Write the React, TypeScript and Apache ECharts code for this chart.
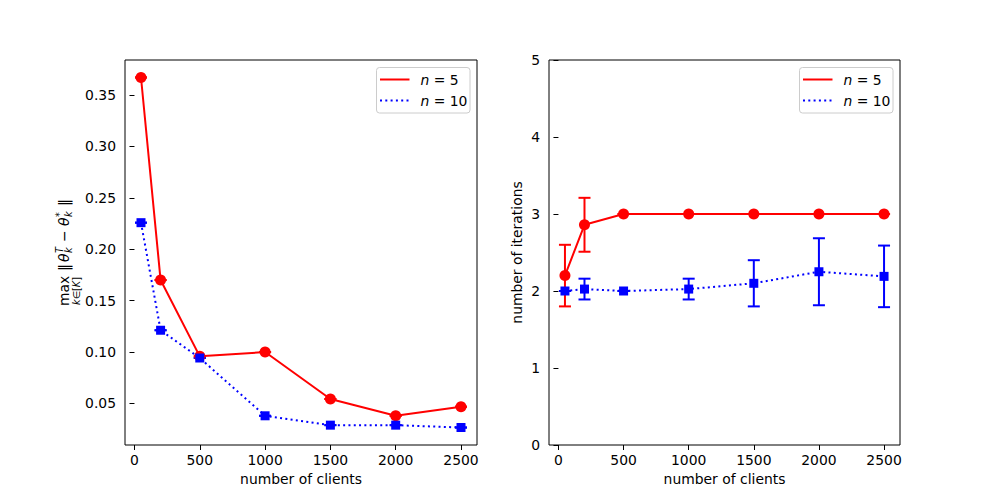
import React, { useEffect, useRef } from "react";
import * as echarts from "echarts";

const clients = [50, 200, 500, 1000, 1500, 2000, 2500];
const xTicks = [0, 500, 1000, 1500, 2000, 2500];
const leftYTicks = [0.05, 0.1, 0.15, 0.2, 0.25, 0.3, 0.35];

const distN5 = [0.367, 0.170, 0.0958, 0.100, 0.0543, 0.038, 0.0468];
const distN5Std = [0, 0, 0, 0, 0, 0, 0];
const distN10 = [0.2258, 0.1212, 0.0942, 0.038, 0.0289, 0.0289, 0.0266];
const distN10Std = [0, 0, 0, 0, 0, 0, 0];

const iterN5 = [2.2, 2.86, 3, 3, 3, 3, 3];
const iterN5Std = [0.4, 0.35, 0, 0, 0, 0, 0];
const iterN10 = [2.0, 2.025, 2.0, 2.025, 2.1, 2.25, 2.19];
const iterN10Std = [0, 0.135, 0, 0.135, 0.3, 0.435, 0.4];

const RED = "#ff0000";
const BLUE = "#0000ff";
const FONT = "DejaVu Sans";
const FS = 13.9;
const LW = 2;
const DOT = [2, 3.3];

function errSeries(vals: number[], std: number[], color: string, axis: number) {
  return {
    type: "custom",
    xAxisIndex: axis,
    yAxisIndex: axis,
    z: 1,
    data: clients.map((c, i) => [c, vals[i], std[i]]),
    encode: { x: 0, y: 1 },
    renderItem: (params: any, api: any) => {
      const x = api.value(0);
      const y = api.value(1);
      const e = api.value(2);
      const top = api.coord([x, y + e]);
      const bot = api.coord([x, y - e]);
      const hw = 6;
      const style = { stroke: color, lineWidth: LW };
      return {
        type: "group",
        children: [
          { type: "line", shape: { x1: top[0], y1: top[1], x2: bot[0], y2: bot[1] }, style },
          { type: "line", shape: { x1: top[0] - hw, y1: top[1], x2: top[0] + hw, y2: top[1] }, style },
          { type: "line", shape: { x1: bot[0] - hw, y1: bot[1], x2: bot[0] + hw, y2: bot[1] }, style },
        ],
      };
    },
  };
}

function lineSeries(vals: number[], color: string, axis: number, solid: boolean) {
  return {
    type: "line",
    xAxisIndex: axis,
    yAxisIndex: axis,
    z: 3,
    data: clients.map((c, i) => [c, vals[i]]),
    symbol: solid ? "circle" : "rect",
    symbolSize: solid ? 11 : 9,
    showSymbol: true,
    itemStyle: { color, borderWidth: 0 },
    lineStyle: { color, width: LW, type: solid ? "solid" : DOT },
  };
}

function xAxis(grid: number) {
  return {
    type: "value",
    gridIndex: grid,
    min: -72.5,
    max: 2622.5,
    splitLine: { show: false },
    axisLine: { show: false },
    axisTick: { show: true, length: 5, customValues: xTicks, lineStyle: { color: "#000" } },
    axisLabel: {
      customValues: xTicks,
      color: "#000",
      fontFamily: FONT,
      fontSize: FS,
      margin: 8,
      formatter: (v: number) => String(Math.round(v)),
    },
    name: "number of clients",
    nameLocation: "middle",
    nameGap: 27,
    nameTextStyle: { color: "#000", fontFamily: FONT, fontSize: FS },
  };
}

function legend(x: number, y: number) {
  const children: any[] = [
    {
      type: "rect",
      shape: { x, y, width: 93.5, height: 45.5, r: 3 },
      style: { fill: "rgba(255,255,255,0.8)", stroke: "#cccccc", lineWidth: 1 },
    },
    {
      type: "line",
      shape: { x1: x + 3.5, y1: y + 12, x2: x + 33, y2: y + 12 },
      style: { stroke: RED, lineWidth: LW },
    },
    {
      type: "line",
      shape: { x1: x + 3.5, y1: y + 33, x2: x + 33, y2: y + 33 },
      style: { stroke: BLUE, lineWidth: LW, lineDash: DOT },
    },
  ];
  const labels = ["5", "10"];
  labels.forEach((l, i) => {
    children.push({
      type: "text",
      x: x + 44,
      y: y + 12 + i * 21,
      style: {
        text: "{i|n} = " + l,
        fontFamily: FONT,
        fontSize: FS,
        fill: "#000",
        verticalAlign: "middle",
        align: "left",
        rich: { i: { fontStyle: "italic", fontFamily: FONT, fontSize: FS, fill: "#000" } },
      },
    });
  });
  return { type: "group", children };
}

function yLabel() {
  const base = { fontFamily: FONT, fill: "#000", verticalAlign: "middle" };
  const it = { ...base, fontStyle: "italic" };
  const t = (text: string, x: number, y: number, st: any, fs: number, align = "left") => ({
    type: "text",
    x,
    y,
    style: { ...st, text, fontSize: fs, align },
  });
  return {
    type: "group",
    x: 64,
    y: 306,
    rotation: Math.PI / 2,
    children: [
      t("max", 0, 0, base, FS),
      {
        type: "text",
        x: 15,
        y: 12,
        style: {
          ...base,
          text: "{i|k}∈[{i|K}]",
          fontSize: 9.7,
          align: "center",
          rich: { i: { fontStyle: "italic", fontFamily: FONT, fontSize: 9.7, fill: "#000" } },
        },
      },
      t("‖", 35, 0, base, FS),
      t("θ", 44, 0, it, FS),
      t("T", 53, -5, it, 9.7),
      t("k", 53, 4, it, 9.7),
      t("−", 64, 0, base, FS),
      t("θ", 80, 0, it, FS),
      t("*", 89, -5, base, 9.7),
      t("k", 89, 4, it, 9.7),
      t("‖", 100, 0, base, FS),
    ],
  };
}

export default function App() {
  const ref = useRef<HTMLDivElement>(null);
  useEffect(() => {
    if (!ref.current) return;
    const chart = echarts.init(ref.current, undefined, { renderer: "svg" });
    chart.setOption({
      animation: false,
      backgroundColor: "#ffffff",
      grid: [
        { left: 125, top: 60, width: 352, height: 385, show: true, borderColor: "#000", borderWidth: 1, backgroundColor: "transparent" },
        { left: 549, top: 60, width: 351, height: 385, show: true, borderColor: "#000", borderWidth: 1, backgroundColor: "transparent" },
      ],
      xAxis: [xAxis(0), xAxis(1)],
      yAxis: [
        {
          type: "value",
          gridIndex: 0,
          min: 0.0096,
          max: 0.384,
          splitLine: { show: false },
          axisLine: { show: false },
          axisTick: { show: true, length: 5, customValues: leftYTicks, lineStyle: { color: "#000" } },
          axisLabel: {
            customValues: leftYTicks,
            color: "#000",
            fontFamily: FONT,
            fontSize: FS,
            margin: 9,
            formatter: (v: number) => v.toFixed(2),
          },
        },
        {
          type: "value",
          gridIndex: 1,
          min: 0,
          max: 5,
          interval: 1,
          splitLine: { show: false },
          axisLine: { show: false },
          axisTick: { show: true, length: 5, lineStyle: { color: "#000" } },
          axisLabel: { color: "#000", fontFamily: FONT, fontSize: FS, margin: 9 },
          name: "number of iterations",
          nameLocation: "middle",
          nameRotate: 90,
          nameGap: 25,
          nameTextStyle: { color: "#000", fontFamily: FONT, fontSize: FS },
        },
      ],
      series: [
        errSeries(distN5, distN5Std, RED, 0),
        errSeries(distN10, distN10Std, BLUE, 0),
        lineSeries(distN5, RED, 0, true),
        lineSeries(distN10, BLUE, 0, false),
        errSeries(iterN5, iterN5Std, RED, 1),
        errSeries(iterN10, iterN10Std, BLUE, 1),
        lineSeries(iterN5, RED, 1, true),
        lineSeries(iterN10, BLUE, 1, false),
      ],
      graphic: [legend(376.5, 67.5), legend(799.5, 67.5), yLabel()],
    });
    return () => chart.dispose();
  }, []);
  return (
    <div
      ref={ref}
      style={{ position: "fixed", left: 0, top: 0, width: 1000, height: 500, background: "#fff" }}
    />
  );
}
